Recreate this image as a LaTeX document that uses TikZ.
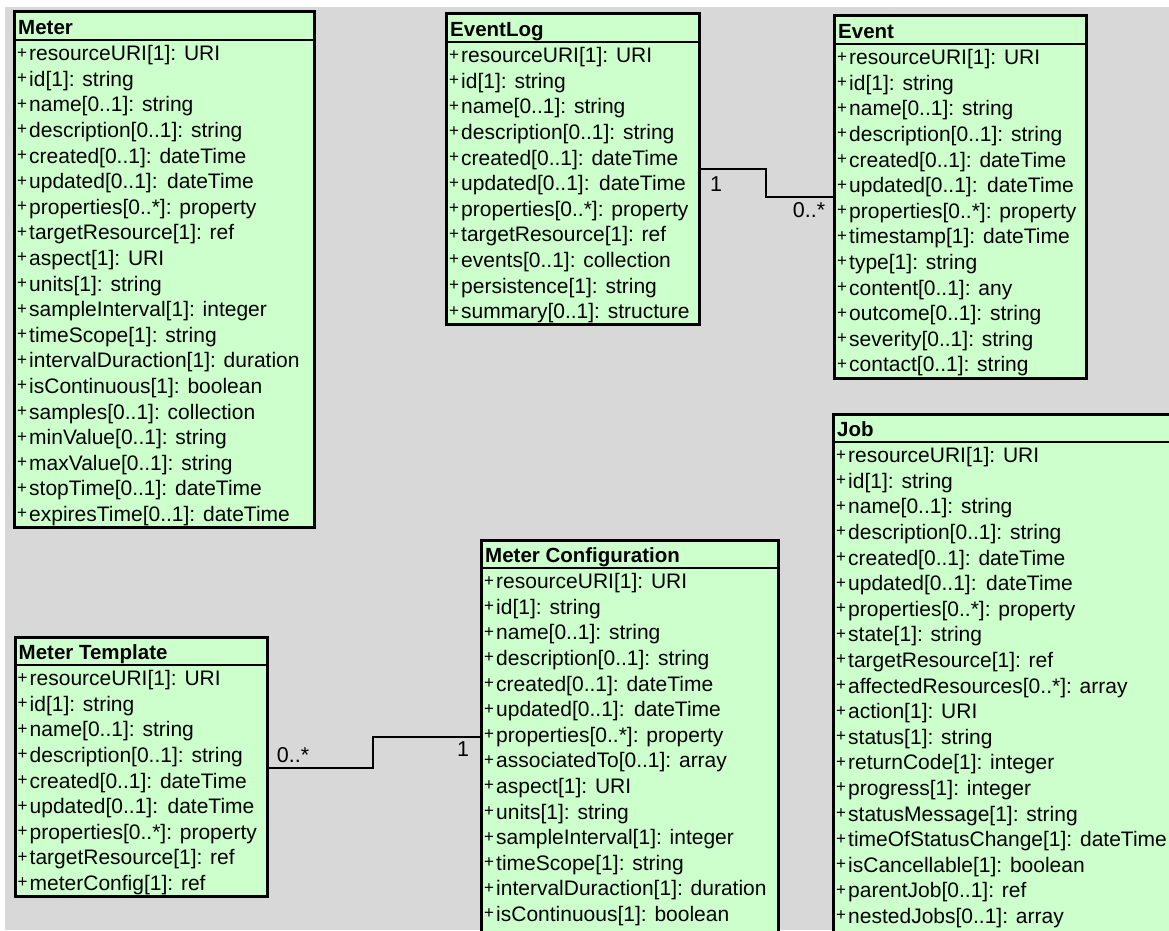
\documentclass[tikz,border=0pt]{standalone}
\usepackage{fontspec}
\setmainfont{Liberation Sans}

\definecolor{canvas}{HTML}{D8D8D8}
\definecolor{classfill}{HTML}{CCFFCC}

\tikzset{
  classbox/.style={draw=black, fill=classfill, line width=3pt, rectangle,
                   inner sep=0pt, outer sep=0pt, anchor=north west},
  classtitle/.style={anchor=base west, inner sep=0pt,
                     font=\fontsize{20.5}{24}\selectfont\bfseries},
  attr/.style={anchor=base west, inner sep=0pt,
               font=\fontsize{21}{25}\selectfont},
  divider/.style={line width=2pt},
  assoc/.style={line width=2pt},
  mult/.style={inner sep=0pt, font=\fontsize{21.5}{25}\selectfont},
}

% small raised plus used as the public-visibility marker
\newcommand{\pubmark}{\makebox[12.5pt][l]{\hspace{0.5pt}\raisebox{2.5pt}{\fontsize{17}{17}\selectfont+}}}
\newcommand{\wsp}{\hspace{0.45em}}

% #1 node name, #2 left, #3 top, #4 right, #5 bottom, #6 header divider y,
% #7 class title, #8 comma separated attribute list
\newcommand{\umlclass}[8]{%
  \node[classbox, minimum width={(#4)-(#2)}, minimum height={(#5)-(#3)}] (#1) at (#2,#3) {};
  \draw[divider] (#2,#6) -- (#4,#6);
  \node[classtitle] (#1-title) at (#2+3.5,#6-5.5) {#7};
  \foreach \t [count=\i] in {#8} {
    \node[attr] (#1-\i) at (#2+2,#6+\i*25.6-5) {\pubmark\t};
  }
}

\begin{document}
\begin{tikzpicture}[x=1pt,y=-1pt]
  \useasboundingbox (0,0) rectangle (1169,930);
  \clip (0,0) rectangle (1169,930);
  \fill[white] (0,0) rectangle (1169,930);
  \fill[canvas] (5,7) rectangle (1169,930);

  \umlclass{meter}{14.5}{11.5}{314.5}{527}{40}{Meter}{%
    resourceURI[1]: URI, id[1]: string, name[0..1]: string,
    description[0..1]: string, created[0..1]: dateTime,
    updated[0..1]:\wsp dateTime, properties[0..*]: property,
    targetResource[1]: ref, aspect[1]: URI, units[1]: string,
    sampleInterval[1]: integer, timeScope[1]: string,
    intervalDuraction[1]: duration, isContinuous[1]: boolean,
    samples[0..1]: collection, minValue[0..1]: string,
    maxValue[0..1]: string, stopTime[0..1]: dateTime,
    expiresTime[0..1]: dateTime}

  \umlclass{eventlog}{446.5}{13}{699.5}{324}{42}{EventLog}{%
    resourceURI[1]: URI, id[1]: string, name[0..1]: string,
    description[0..1]: string, created[0..1]: dateTime,
    updated[0..1]:\wsp dateTime, properties[0..*]: property,
    targetResource[1]: ref, events[0..1]: collection,
    persistence[1]: string, summary[0..1]: structure}

  \umlclass{event}{834.5}{15}{1086}{378}{44}{Event}{%
    resourceURI[1]: URI, id[1]: string, name[0..1]: string,
    description[0..1]: string, created[0..1]: dateTime,
    updated[0..1]:\wsp dateTime, properties[0..*]: property,
    timestamp[1]: dateTime, type[1]: string, content[0..1]: any,
    outcome[0..1]: string, severity[0..1]: string,
    contact[0..1]: string}

  \umlclass{job}{833.5}{414.5}{1200}{945}{442}{Job}{%
    resourceURI[1]: URI, id[1]: string, name[0..1]: string,
    description[0..1]: string, created[0..1]: dateTime,
    updated[0..1]:\wsp dateTime, properties[0..*]: property,
    state[1]: string, targetResource[1]: ref,
    affectedResources[0..*]: array, action[1]: URI, status[1]: string,
    returnCode[1]: integer, progress[1]: integer,
    statusMessage[1]: string, timeOfStatusChange[1]: dateTime,
    isCancellable[1]: boolean, parentJob[0..1]: ref,
    nestedJobs[0..1]: array}

  \umlclass{mtemplate}{15}{637}{267.5}{896}{665}{Meter Template}{%
    resourceURI[1]: URI, id[1]: string, name[0..1]: string,
    description[0..1]: string, created[0..1]: dateTime,
    updated[0..1]:\wsp dateTime, properties[0..*]: property,
    targetResource[1]: ref, meterConfig[1]: ref}

  \umlclass{mconfig}{481.5}{540.5}{778}{960}{568}{Meter Configuration}{%
    resourceURI[1]: URI, id[1]: string, name[0..1]: string,
    description[0..1]: string, created[0..1]: dateTime,
    updated[0..1]:\wsp dateTime, properties[0..*]: property,
    associatedTo[0..1]: array, aspect[1]: URI, units[1]: string,
    sampleInterval[1]: integer, timeScope[1]: string,
    intervalDuraction[1]: duration, isContinuous[1]: boolean}

  % EventLog 1 -- 0..* Event
  \coordinate (elLevel) at (0,169);
  \coordinate (elBend) at (766,169);
  \coordinate (evLevel) at (0,197);
  \draw[assoc] (eventlog.east |- elLevel) -- (elBend) |- (event.west |- evLevel);
  \node[mult] (elOne) at (716,184) {1};
  \node[mult] (evMany) at (809,210) {0..*};

  % Meter Template 0..* -- 1 Meter Configuration
  \coordinate (mtLevel) at (0,768);
  \coordinate (mtBend) at (373,768);
  \coordinate (mcLevel) at (0,737);
  \draw[assoc] (mtemplate.east |- mtLevel) -- (mtBend) |- (mconfig.west |- mcLevel);
  \node[mult] (mtMany) at (293,755) {0..*};
  \node[mult] (mcOne) at (463,749) {1};
\end{tikzpicture}
\end{document}
